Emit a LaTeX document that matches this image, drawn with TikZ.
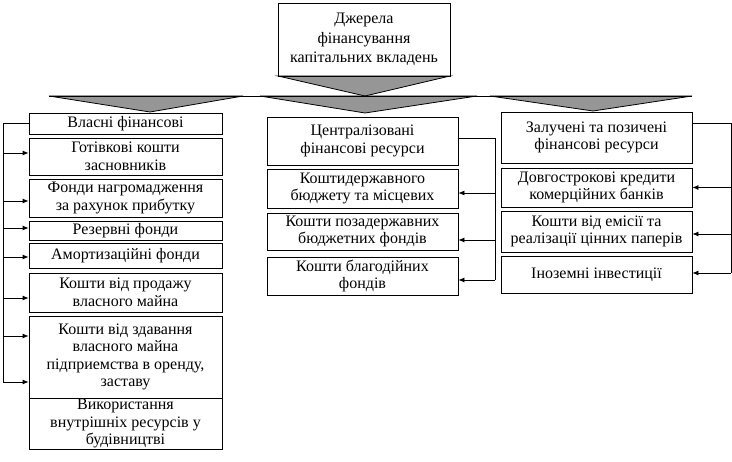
\documentclass[tikz,border=0pt]{standalone}
\usepackage{fontspec}
\setmainfont{Liberation Serif}
\usetikzlibrary{arrows.meta}
\definecolor{arrowgray}{RGB}{150,150,150}

\begin{document}
\begin{tikzpicture}[x=1pt, y=-1pt,
    box/.style={draw, line width=0.8pt, align=center, inner sep=0pt, font=\fontsize{16}{17.5}\selectfont},
    lbox/.style={box, minimum width=193pt},
    cbox/.style={box, minimum width=191pt},
    bigarrow/.style={draw, line width=0.8pt, fill=arrowgray},
    feed/.style={-{Latex[length=6pt,width=5pt]}, line width=0.8pt},
]
    \useasboundingbox (0,0) rectangle (732,462);

    \fill[bigarrow] (278,76) -- (450,76) -- (365,96) -- cycle;
    \fill[bigarrow] (49,96) -- (243,96) -- (150,112) -- cycle;
    \fill[bigarrow] (260,96) -- (477,96) -- (365,113) -- cycle;
    \fill[bigarrow] (490,96) -- (692,96) -- (593,111) -- cycle;
    \draw[line width=0.8pt] (49,96) -- (692,96);

    \node[box, minimum width=172pt, minimum height=73pt, font=\fontsize{16}{19.5}\selectfont] (sources) at (364,39.5) {Джерела\\фінансування\\капітальних вкладень};

    \node[lbox, minimum height=21pt] (own) at (125.5,123.5) {Власні фінансові};
    \node[lbox, minimum height=37pt] (cash) at (125.5,156.5) {Готівкові кошти\\засновників};
    \node[lbox, minimum height=38pt] (accum) at (125.5,198) {Фонди нагромадження\\за рахунок прибутку};
    \node[lbox, minimum height=19pt] (reserve) at (125.5,230.5) {Резервні фонди};
    \node[lbox, minimum height=25pt] (amort) at (125.5,255.5) {Амортизаційні фонди};
    \node[lbox, minimum height=39pt] (sale) at (125.5,292.5) {Кошти від продажу\\власного майна};
    \node[lbox, minimum height=82pt] (lease) at (125.5,357) {Кошти від здавання\\власного майна\\підприемства в оренду,\\заставу};
    \node[lbox, minimum height=51pt] (inner) at (125.5,423.5) {Використання\\внутрішніх ресурсів у\\будівництві};

    \node[cbox, minimum height=48pt] (central) at (362.5,141) {Централізовані\\фінансові ресурси};
    \node[cbox, minimum height=39pt] (state) at (362.5,188.5) {Коштидержавного\\бюджету та місцевих};
    \node[cbox, minimum height=37pt] (extra) at (362.5,231.5) {Кошти позадержавних\\бюджетних фондів};
    \node[cbox, minimum height=38pt] (charity) at (362.5,276) {Кошти благодійних\\фондів};

    \node[cbox, minimum height=51pt] (borrowed) at (596.5,137.5) {Залучені та позичені\\фінансові ресурси};
    \node[cbox, minimum height=39pt] (credit) at (596.5,187.5) {Довгострокові кредити\\комерційних банків};
    \node[cbox, minimum height=41pt] (emission) at (596.5,231.5) {Кошти від емісії та\\реалізації цінних паперів};
    \node[cbox, minimum height=37pt] (foreign) at (596.5,274.5) {Іноземні інвестиції};

    \coordinate (lbus) at (3,0);
    \coordinate (mbus) at (495,0);
    \coordinate (rbus) at (731,0);
    \coordinate (leaselow) at ([yshift=-25pt]lease.west);
    \coordinate (charitylow) at ([yshift=-4pt]charity.east);
    \coordinate (foreignlow) at ([yshift=1.5pt]foreign.east);

    \draw[line width=0.8pt] (own.west) -- (own.west -| lbus) -- (lbus |- leaselow);
    \foreach \n/\s in {cash/3.5, accum/-3, reserve/2.5, amort/-1.5, sale/-5.5, lease/21, lease/-25}
        \draw[feed] ([yshift=\s pt]\n.west -| lbus) -- ([yshift=\s pt]\n.west);

    \draw[line width=0.8pt] ([yshift=3pt]central.east) -- ([yshift=3pt]central.east -| mbus) -- (mbus |- charitylow);
    \foreach \n/\s in {state/-4.5, extra/-8.5, charity/-4}
        \draw[feed] ([yshift=\s pt]\n.east -| mbus) -- ([yshift=\s pt]\n.east);

    \draw[line width=0.8pt] ([yshift=14.5pt]borrowed.east) -- ([yshift=14.5pt]borrowed.east -| rbus) -- (rbus |- foreignlow);
    \foreach \n/\s in {credit/0, emission/-2.5, foreign/1.5}
        \draw[feed] ([yshift=\s pt]\n.east -| rbus) -- ([yshift=\s pt]\n.east);
\end{tikzpicture}
\end{document}
